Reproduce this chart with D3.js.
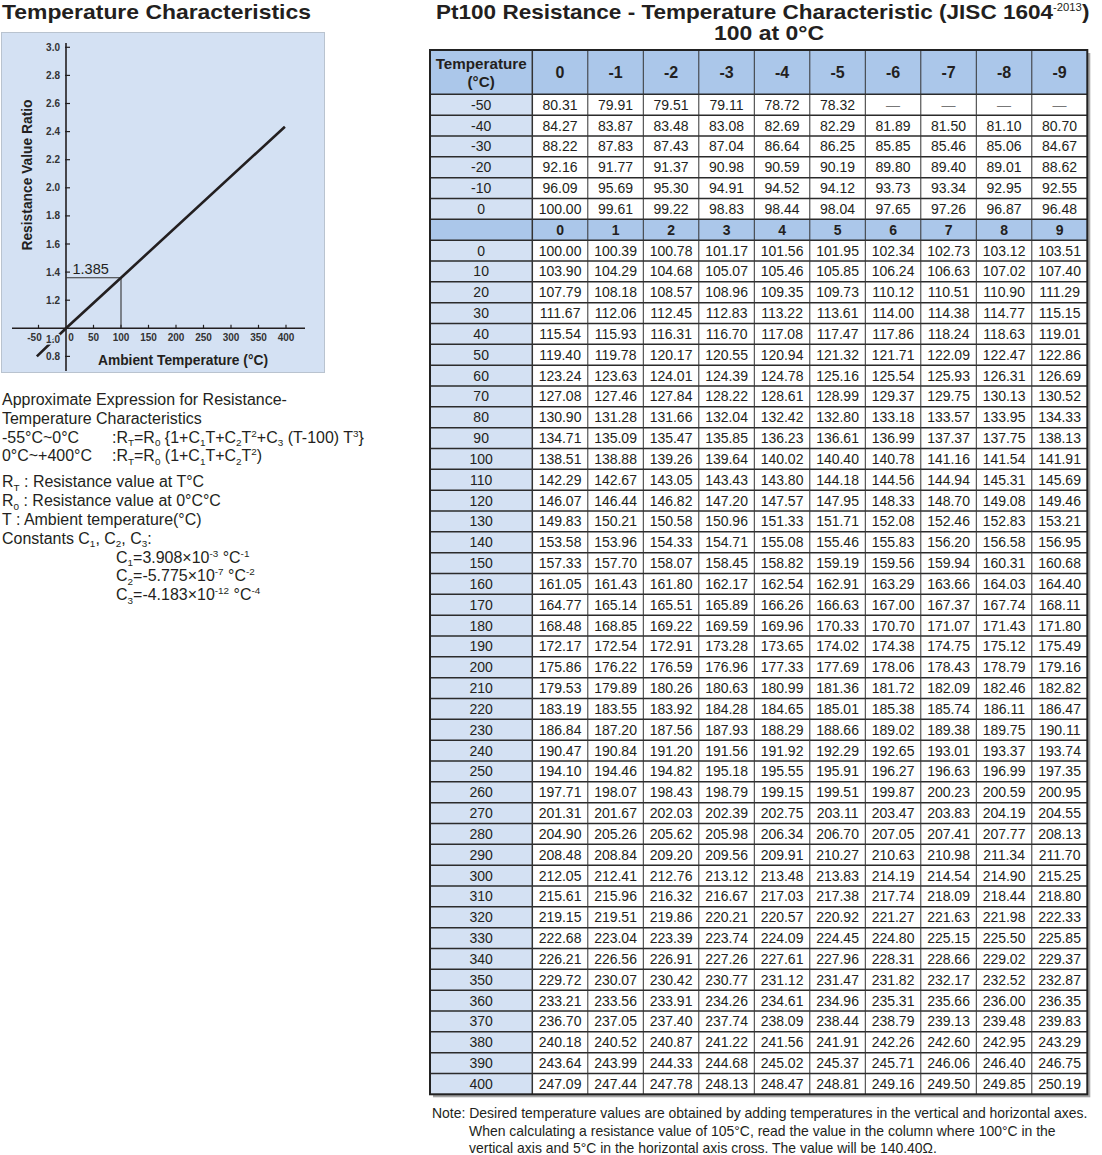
<!DOCTYPE html>
<html>
<head>
<meta charset="utf-8">
<script src="https://cdn.jsdelivr.net/npm/d3@7"></script>
<style>
  body { margin: 0; background: #fff; }
  svg { display: block; font-family: "Liberation Sans", Arial, Helvetica, sans-serif; }
</style>
</head>
<body>
<div id="chart-area"></div>
<script>
// ---- chart data ----
var xTickValues = [-50, 50, 100, 150, 200, 250, 300, 350, 400];
var xTickLabels = ["-50", "50", "100", "150", "200", "250", "300", "350", "400"];
var yTickValues = [0.8, 1.2, 1.4, 1.6, 1.8, 2.0, 2.2, 2.4, 2.6, 2.8, 3.0];
var yTickLabels = ["0.8", "1.2", "1.4", "1.6", "1.8", "2.0", "2.2", "2.4", "2.6", "2.8", "3.0"];
var lineTemps = [-53, 0, 100, 398];
var lineRatios = [0.80, 1.0, 1.36, 2.435];
var markTemp = 100;
var markRatio = 1.36;
var markLabel = "1.385";

// ---- table data ----
var negHeader = ["0", "-1", "-2", "-3", "-4", "-5", "-6", "-7", "-8", "-9"];
var posHeader = ["0", "1", "2", "3", "4", "5", "6", "7", "8", "9"];
var negTemps = ["-50", "-40", "-30", "-20", "-10", "0"];
var negValues = [
  [80.31, 79.91, 79.51, 79.11, 78.72, 78.32, null, null, null, null],
  [84.27, 83.87, 83.48, 83.08, 82.69, 82.29, 81.89, 81.50, 81.10, 80.70],
  [88.22, 87.83, 87.43, 87.04, 86.64, 86.25, 85.85, 85.46, 85.06, 84.67],
  [92.16, 91.77, 91.37, 90.98, 90.59, 90.19, 89.80, 89.40, 89.01, 88.62],
  [96.09, 95.69, 95.30, 94.91, 94.52, 94.12, 93.73, 93.34, 92.95, 92.55],
  [100.00, 99.61, 99.22, 98.83, 98.44, 98.04, 97.65, 97.26, 96.87, 96.48]
];
var posTemps = ["0", "10", "20", "30", "40", "50", "60", "70", "80", "90",
  "100", "110", "120", "130", "140", "150", "160", "170", "180", "190",
  "200", "210", "220", "230", "240", "250", "260", "270", "280", "290",
  "300", "310", "320", "330", "340", "350", "360", "370", "380", "390", "400"];
var posValues = [
  [100.00, 100.39, 100.78, 101.17, 101.56, 101.95, 102.34, 102.73, 103.12, 103.51],
  [103.90, 104.29, 104.68, 105.07, 105.46, 105.85, 106.24, 106.63, 107.02, 107.40],
  [107.79, 108.18, 108.57, 108.96, 109.35, 109.73, 110.12, 110.51, 110.90, 111.29],
  [111.67, 112.06, 112.45, 112.83, 113.22, 113.61, 114.00, 114.38, 114.77, 115.15],
  [115.54, 115.93, 116.31, 116.70, 117.08, 117.47, 117.86, 118.24, 118.63, 119.01],
  [119.40, 119.78, 120.17, 120.55, 120.94, 121.32, 121.71, 122.09, 122.47, 122.86],
  [123.24, 123.63, 124.01, 124.39, 124.78, 125.16, 125.54, 125.93, 126.31, 126.69],
  [127.08, 127.46, 127.84, 128.22, 128.61, 128.99, 129.37, 129.75, 130.13, 130.52],
  [130.90, 131.28, 131.66, 132.04, 132.42, 132.80, 133.18, 133.57, 133.95, 134.33],
  [134.71, 135.09, 135.47, 135.85, 136.23, 136.61, 136.99, 137.37, 137.75, 138.13],
  [138.51, 138.88, 139.26, 139.64, 140.02, 140.40, 140.78, 141.16, 141.54, 141.91],
  [142.29, 142.67, 143.05, 143.43, 143.80, 144.18, 144.56, 144.94, 145.31, 145.69],
  [146.07, 146.44, 146.82, 147.20, 147.57, 147.95, 148.33, 148.70, 149.08, 149.46],
  [149.83, 150.21, 150.58, 150.96, 151.33, 151.71, 152.08, 152.46, 152.83, 153.21],
  [153.58, 153.96, 154.33, 154.71, 155.08, 155.46, 155.83, 156.20, 156.58, 156.95],
  [157.33, 157.70, 158.07, 158.45, 158.82, 159.19, 159.56, 159.94, 160.31, 160.68],
  [161.05, 161.43, 161.80, 162.17, 162.54, 162.91, 163.29, 163.66, 164.03, 164.40],
  [164.77, 165.14, 165.51, 165.89, 166.26, 166.63, 167.00, 167.37, 167.74, 168.11],
  [168.48, 168.85, 169.22, 169.59, 169.96, 170.33, 170.70, 171.07, 171.43, 171.80],
  [172.17, 172.54, 172.91, 173.28, 173.65, 174.02, 174.38, 174.75, 175.12, 175.49],
  [175.86, 176.22, 176.59, 176.96, 177.33, 177.69, 178.06, 178.43, 178.79, 179.16],
  [179.53, 179.89, 180.26, 180.63, 180.99, 181.36, 181.72, 182.09, 182.46, 182.82],
  [183.19, 183.55, 183.92, 184.28, 184.65, 185.01, 185.38, 185.74, 186.11, 186.47],
  [186.84, 187.20, 187.56, 187.93, 188.29, 188.66, 189.02, 189.38, 189.75, 190.11],
  [190.47, 190.84, 191.20, 191.56, 191.92, 192.29, 192.65, 193.01, 193.37, 193.74],
  [194.10, 194.46, 194.82, 195.18, 195.55, 195.91, 196.27, 196.63, 196.99, 197.35],
  [197.71, 198.07, 198.43, 198.79, 199.15, 199.51, 199.87, 200.23, 200.59, 200.95],
  [201.31, 201.67, 202.03, 202.39, 202.75, 203.11, 203.47, 203.83, 204.19, 204.55],
  [204.90, 205.26, 205.62, 205.98, 206.34, 206.70, 207.05, 207.41, 207.77, 208.13],
  [208.48, 208.84, 209.20, 209.56, 209.91, 210.27, 210.63, 210.98, 211.34, 211.70],
  [212.05, 212.41, 212.76, 213.12, 213.48, 213.83, 214.19, 214.54, 214.90, 215.25],
  [215.61, 215.96, 216.32, 216.67, 217.03, 217.38, 217.74, 218.09, 218.44, 218.80],
  [219.15, 219.51, 219.86, 220.21, 220.57, 220.92, 221.27, 221.63, 221.98, 222.33],
  [222.68, 223.04, 223.39, 223.74, 224.09, 224.45, 224.80, 225.15, 225.50, 225.85],
  [226.21, 226.56, 226.91, 227.26, 227.61, 227.96, 228.31, 228.66, 229.02, 229.37],
  [229.72, 230.07, 230.42, 230.77, 231.12, 231.47, 231.82, 232.17, 232.52, 232.87],
  [233.21, 233.56, 233.91, 234.26, 234.61, 234.96, 235.31, 235.66, 236.00, 236.35],
  [236.70, 237.05, 237.40, 237.74, 238.09, 238.44, 238.79, 239.13, 239.48, 239.83],
  [240.18, 240.52, 240.87, 241.22, 241.56, 241.91, 242.26, 242.60, 242.95, 243.29],
  [243.64, 243.99, 244.33, 244.68, 245.02, 245.37, 245.71, 246.06, 246.40, 246.75],
  [247.09, 247.44, 247.78, 248.13, 248.47, 248.81, 249.16, 249.50, 249.85, 250.19]
];

// ---- text blocks ----
var exprLines = [
  { x: 2, dy: 0, text: "Approximate Expression for Resistance-" },
  { x: 2, dy: 18.8, text: "Temperature Characteristics" },
  { x: 2, dy: 18.8, text: "-55°C~0°C" },
  { x: 2, dy: 18.8, text: "0°C~+400°C" },
  { x: 2, dy: 26, text: "R_[T] : Resistance value at T°C" },
  { x: 2, dy: 18.8, text: "R_[0] : Resistance value at 0°C°C" },
  { x: 2, dy: 18.8, text: "T : Ambient temperature(°C)" },
  { x: 2, dy: 18.8, text: "Constants C_[1], C_[2], C_[3]:" },
  { x: 116, dy: 18.8, text: "C_[1]=3.908×10^[-3] °C^[-1]" },
  { x: 116, dy: 18.8, text: "C_[2]=-5.775×10^[-7] °C^[-2]" },
  { x: 116, dy: 18.8, text: "C_[3]=-4.183×10^[-12] °C^[-4]" }
];
var formulaLines = [
  ":R_[T]=R_[0] {1+C_[1]T+C_[2]T^[2]+C_[3] (T-100) T^[3]}",
  ":R_[T]=R_[0] (1+C_[1]T+C_[2]T^[2])"
];
var noteLines = [
  "Note: Desired temperature values are obtained by adding temperatures in the vertical and horizontal axes.",
  "When calculating a resistance value of 105°C, read the value in the column where 100°C in the",
  "vertical axis and 5°C in the horizontal axis cross. The value will be 140.40Ω."
];

var ink = "#231f20";
var paleBlue = "#d4e1f3";
var headBlue = "#abc7ea";

var svg = d3.select("#chart-area").append("svg")
  .attr("width", 1102)
  .attr("height", 1155);

// squeeze a text element horizontally so it spans w px from its left edge
function fitWidth(sel, w) {
  var b = sel.node().getBBox();
  var s = w / b.width;
  sel.attr("transform", "translate(" + b.x + ",0) scale(" + s + ",1) translate(" + (-b.x) + ",0)");
  return s;
}

// text with _[sub] and ^[sup] markup
function rich(parent, x, y, size, str) {
  var t = parent.append("text").attr("x", x).attr("y", y)
    .attr("font-size", size).attr("fill", ink);
  var re = /(_|\^)\[([^\]]*)\]/g, last = 0, off = 0, m;
  var parts = [];
  while ((m = re.exec(str)) !== null) {
    if (m.index > last) parts.push([str.slice(last, m.index), ""]);
    parts.push([m[2], m[1] === "_" ? "sub" : "sup"]);
    last = re.lastIndex;
  }
  if (last < str.length) parts.push([str.slice(last), ""]);
  parts.forEach(function(p) {
    var target = p[1] === "sub" ? size * 0.22 : (p[1] === "sup" ? -size * 0.38 : 0);
    t.append("tspan")
      .attr("dy", target - off)
      .attr("font-size", p[1] ? size * 0.62 : size)
      .text(p[0]);
    off = target;
  });
  return t;
}

// ================= LEFT: chart =================
var title = svg.append("text")
  .attr("x", 2).attr("y", 19.5)
  .attr("font-size", 21).attr("font-weight", "bold").attr("fill", ink)
  .text("Temperature Characteristics");
fitWidth(title, 309);

svg.append("rect")
  .attr("x", 1.5).attr("y", 32.5).attr("width", 323).attr("height", 340)
  .attr("fill", paleBlue).attr("stroke", "#b9c3cf");

var x = d3.scaleLinear().domain([0, 400]).range([66, 286]);
var y = d3.scaleLinear().domain([1, 3]).range([328.3, 47.3]);

var g = svg.append("g");

// axes lines
g.append("line").attr("x1", 12).attr("x2", 305).attr("y1", y(1)).attr("y2", y(1))
  .attr("stroke", ink).attr("stroke-width", 1.6);
g.append("line").attr("x1", x(0)).attr("x2", x(0)).attr("y1", 43).attr("y2", 371)
  .attr("stroke", ink).attr("stroke-width", 1.6);

// y ticks
g.selectAll(".ytick").data(yTickValues).enter().append("line")
  .attr("class", "ytick")
  .attr("x1", x(0) - 1).attr("x2", x(0) + 4)
  .attr("y1", function(d) { return y(d); }).attr("y2", function(d) { return y(d); })
  .attr("stroke", ink).attr("stroke-width", 1.2);
g.selectAll(".ylab").data(yTickValues).enter().append("text")
  .attr("class", "ylab")
  .attr("x", 60)
  .attr("y", function(d) { return y(d); })
  .attr("dy", "0.35em")
  .attr("text-anchor", "end")
  .attr("font-size", 10).attr("font-weight", "bold").attr("fill", "#333")
  .text(function(d, i) { return yTickLabels[i]; });

// x ticks
g.selectAll(".xtick").data(xTickValues).enter().append("line")
  .attr("class", "xtick")
  .attr("x1", function(d) { return x(d); }).attr("x2", function(d) { return x(d); })
  .attr("y1", y(1) - 3.5).attr("y2", y(1))
  .attr("stroke", ink).attr("stroke-width", 1.2);
g.selectAll(".xlab").data(xTickValues).enter().append("text")
  .attr("class", "xlab")
  .attr("x", function(d) { return x(d); })
  .attr("dx", function(d) { return d < 0 ? -4 : 0; })
  .attr("y", y(1) + 9)
  .attr("dy", "0.35em")
  .attr("text-anchor", "middle")
  .attr("font-size", 10).attr("font-weight", "bold").attr("fill", "#333")
  .text(function(d, i) { return xTickLabels[i]; });

// reference lines for the 100 °C mark
g.append("path")
  .attr("d", "M" + x(0) + "," + y(markRatio) + "H" + x(markTemp) + "V" + y(1))
  .attr("fill", "none").attr("stroke", "#333").attr("stroke-width", 1.1);

// characteristic line
var lineGen = d3.line()
  .x(function(d) { return x(d[0]); })
  .y(function(d) { return y(d[1]); });
g.append("path")
  .datum(d3.zip(lineTemps, lineRatios))
  .attr("d", lineGen)
  .attr("fill", "none").attr("stroke", ink).attr("stroke-width", 2.6);

// labels that sit on top of the line
g.append("text")
  .attr("x", 60).attr("y", y(1) + 11).attr("dy", "0.35em")
  .attr("text-anchor", "end")
  .attr("font-size", 10).attr("font-weight", "bold").attr("fill", "#333")
  .attr("stroke", paleBlue).attr("stroke-width", 3).attr("paint-order", "stroke")
  .text("1.0");
g.append("text")
  .attr("x", x(0) + 5).attr("y", y(1) + 9).attr("dy", "0.35em")
  .attr("text-anchor", "middle")
  .attr("font-size", 10).attr("font-weight", "bold").attr("fill", "#333")
  .text("0");

g.append("text")
  .attr("x", 72.5).attr("y", 273.5)
  .attr("font-size", 14.5).attr("fill", ink)
  .text(markLabel);

// axis titles
g.append("text")
  .attr("x", 183).attr("y", 365)
  .attr("text-anchor", "middle")
  .attr("font-size", 13.8).attr("font-weight", "bold").attr("fill", ink)
  .text("Ambient Temperature (°C)");
g.append("text")
  .attr("transform", "translate(31.5,175) rotate(-90)")
  .attr("text-anchor", "middle")
  .attr("font-size", 13.8).attr("font-weight", "bold").attr("fill", ink)
  .text("Resistance Value Ratio");

// ================= LEFT: expression text =================
var ex = svg.append("g");
var yy = 405;
var exprTexts = [];
exprLines.forEach(function(l) {
  yy += l.dy;
  exprTexts.push(rich(ex, l.x, yy, 15.6, l.text));
  if (l.text === "-55°C~0°C") exprTexts.push(rich(ex, 112, yy, 15.6, formulaLines[0]));
  if (l.text === "0°C~+400°C") exprTexts.push(rich(ex, 112, yy, 15.6, formulaLines[1]));
});
var exScale = 285 / exprTexts[0].node().getBBox().width;
exprTexts.forEach(function(t) {
  var bx = +t.attr("x");
  t.attr("transform", "translate(" + bx + ",0) scale(" + exScale + ",1) translate(" + (-bx) + ",0)");
});

// ================= RIGHT: table =================
var t1 = svg.append("text")
  .attr("x", 436).attr("y", 19)
  .attr("font-size", 20).attr("font-weight", "bold").attr("fill", ink);
t1.append("tspan").text("Pt100 Resistance - Temperature Characteristic (JISC 1604");
t1.append("tspan").attr("dy", -8).attr("font-size", 10).attr("font-weight", "normal").text("-2013");
t1.append("tspan").attr("dy", 8).text(")");
fitWidth(t1, 654);

var t2 = svg.append("text")
  .attr("x", 769).attr("y", 40.5)
  .attr("text-anchor", "middle")
  .attr("font-size", 20).attr("font-weight", "bold").attr("fill", ink)
  .text("100 at 0°C");
var b2 = t2.node().getBBox();
t2.attr("transform", "translate(769,0) scale(" + (110 / b2.width) + ",1) translate(-769,0)");

// rows: negative block, sub header, positive block
var rows = [];
negTemps.forEach(function(tp, i) { rows.push({ key: "n" + tp, label: tp, values: negValues[i], kind: "data" }); });
rows.push({ key: "sub", label: "", values: posHeader, kind: "sub" });
posTemps.forEach(function(tp, i) { rows.push({ key: "p" + tp, label: tp, values: posValues[i], kind: "data" }); });

var tLeft = 430, tCol = 532.3, tRight = 1087.3, tTop = 50, tHead = 94.3, tBottom = 1094.3;
var col = d3.scaleBand().domain(d3.range(10)).range([tCol, tRight]);
var row = d3.scaleBand().domain(rows.map(function(d) { return d.key; })).range([tHead, tBottom]);

var tg = svg.append("g");

// shadow + backgrounds
tg.append("rect").attr("x", tLeft + 3).attr("y", tTop + 3)
  .attr("width", tRight - tLeft).attr("height", tBottom - tTop).attr("fill", "#a6a6a6");
tg.append("rect").attr("x", tLeft).attr("y", tTop)
  .attr("width", tRight - tLeft).attr("height", tBottom - tTop).attr("fill", "#fff");
tg.append("rect").attr("x", tLeft).attr("y", tTop)
  .attr("width", tRight - tLeft).attr("height", tHead - tTop).attr("fill", headBlue);
tg.append("rect").attr("x", tLeft).attr("y", tHead)
  .attr("width", tCol - tLeft).attr("height", tBottom - tHead).attr("fill", paleBlue);
tg.append("rect").attr("x", tLeft).attr("y", row("sub"))
  .attr("width", tRight - tLeft).attr("height", row.bandwidth()).attr("fill", headBlue);

// grid lines
tg.selectAll(".hline").data(rows.slice(1)).enter().append("line")
  .attr("class", "hline")
  .attr("x1", tLeft).attr("x2", tRight)
  .attr("y1", function(d) { return row(d.key); })
  .attr("y2", function(d) { return row(d.key); })
  .attr("stroke", "#2b2b2b").attr("stroke-width", 1.5);
tg.append("line").attr("x1", tLeft).attr("x2", tRight).attr("y1", tHead).attr("y2", tHead)
  .attr("stroke", "#2b2b2b").attr("stroke-width", 1.5);
tg.selectAll(".vline").data(d3.range(10)).enter().append("line")
  .attr("class", "vline")
  .attr("x1", function(d) { return col(d); }).attr("x2", function(d) { return col(d); })
  .attr("y1", tTop).attr("y2", tBottom)
  .attr("stroke", "#333").attr("stroke-width", function(d) { return d === 0 ? 1.5 : 1; });
tg.append("rect").attr("x", tLeft).attr("y", tTop)
  .attr("width", tRight - tLeft).attr("height", tBottom - tTop)
  .attr("fill", "none").attr("stroke", "#222").attr("stroke-width", 2);

// header text
var hx = (tLeft + tCol) / 2;
tg.append("text").attr("x", hx).attr("y", 69)
  .attr("text-anchor", "middle").attr("font-size", 15.2).attr("font-weight", "bold").attr("fill", ink)
  .text("Temperature");
tg.append("text").attr("x", hx).attr("y", 87)
  .attr("text-anchor", "middle").attr("font-size", 15.2).attr("font-weight", "bold").attr("fill", ink)
  .text("(°C)");
tg.selectAll(".hnum").data(negHeader).enter().append("text")
  .attr("class", "hnum")
  .attr("x", function(d, i) { return col(i) + col.bandwidth() / 2; })
  .attr("y", (tTop + tHead) / 2).attr("dy", "0.36em")
  .attr("text-anchor", "middle").attr("font-size", 16).attr("font-weight", "bold").attr("fill", ink)
  .text(function(d) { return d; });

// body rows
var rg = tg.selectAll(".trow").data(rows).enter().append("g")
  .attr("class", "trow")
  .attr("transform", function(d) { return "translate(0," + (row(d.key) + row.bandwidth() / 2) + ")"; });
rg.append("text")
  .attr("x", hx).attr("dy", "0.36em")
  .attr("text-anchor", "middle").attr("font-size", 14).attr("fill", ink)
  .text(function(d) { return d.label; });
rg.selectAll(".cell").data(function(d) {
    return d.values.map(function(v, i) { return { v: v, i: i, kind: d.kind }; });
  }).enter().append("text")
  .attr("class", "cell")
  .attr("x", function(d) { return col(d.i) + col.bandwidth() / 2; })
  .attr("dy", "0.36em")
  .attr("text-anchor", "middle")
  .attr("font-size", 14)
  .attr("font-weight", function(d) { return d.kind === "sub" ? "bold" : "normal"; })
  .attr("fill", function(d) { return d.v === null ? "#777" : ink; })
  .text(function(d) {
    if (d.kind === "sub") return d.v;
    return d.v === null ? "—" : d.v.toFixed(2);
  });

// note
var ng = svg.append("g");
var n1 = ng.append("text").attr("x", 432).attr("y", 1118)
  .attr("font-size", 14).attr("fill", ink).text(noteLines[0]);
var ns = fitWidth(n1, 656);
[noteLines[1], noteLines[2]].forEach(function(s, i) {
  var t = ng.append("text").attr("x", 469).attr("y", 1136 + i * 17.5)
    .attr("font-size", 14).attr("fill", ink).text(s);
  t.attr("transform", "translate(469,0) scale(" + ns + ",1) translate(-469,0)");
});
</script>
</body>
</html>
